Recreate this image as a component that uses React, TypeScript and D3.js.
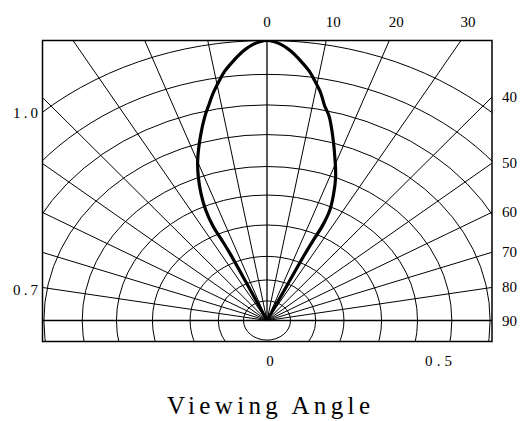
import * as d3 from 'd3'

// radiation pattern: angle (deg from axis) vs relative intensity
const patternAngles = [
  -24.5, -24.5, -24.7, -25.1, -25.5, -24.8, -23.4, -21.7, -19.8, -16.6, -14.2, -12.8, -11.1, -9.2, -8, -6.2, -4.2, -2.4, 0,
  2.4, 4.2, 6.2, 8, 9.2, 11.1, 12.6, 14.2, 16.4, 19.7, 21.8, 23.8, 25.4, 26, 25.7, 25.4, 25.5, 25.5
]
const patternValues = [
  0, 0.146, 0.264, 0.318, 0.371, 0.435, 0.495, 0.553, 0.609, 0.691, 0.753, 0.786, 0.829, 0.873, 0.9, 0.932, 0.965, 0.987, 1.0,
  0.987, 0.965, 0.932, 0.9, 0.873, 0.829, 0.786, 0.753, 0.691, 0.602, 0.55, 0.49, 0.435, 0.375, 0.32, 0.252, 0.134, 0
]

// concentric grid rings (relative radius)
const ringLevels = [0.07, 0.145, 0.229, 0.341, 0.448, 0.55, 0.664, 0.77, 0.879, 1.0]

// radial spokes every 10 degrees
const spokeAngles = d3.range(-90, 91, 10)

const topAngleLabels = ['0', '10', '20', '30']
const topAngleValues = [0, 10, 20, 30]
const rightAngleLabels = ['40', '50', '60', '70', '80', '90']
const rightAngleValues = [40, 50, 60, 70, 80, 90]

const leftValueLabels = ['1.0', '0.7']
const bottomValueLabels = ['0', '0.5']

const W = 525
const H = 421
const box = { left: 42.5, right: 492, top: 40.5, bottom: 341.5 }
const cx = 267
const cy = 320.5
const aspect = 1.2 // horizontal stretch of the polar grid

const r = d3.scaleLinear().domain([0, 1]).range([0, 280])
const rad = (deg: number) => (deg * Math.PI) / 180
const px = (deg: number, v: number) => cx + aspect * r(v) * Math.sin(rad(deg))
const py = (deg: number, v: number) => cy - r(v) * Math.cos(rad(deg))

export default function App() {
  const pts = patternAngles.map((a, i) => [a, patternValues[i]] as [number, number])
  const line = d3
    .line<[number, number]>()
    .x((d) => px(d[0], d[1]))
    .y((d) => py(d[0], d[1]))
    .curve(d3.curveCatmullRom.alpha(0.5))

  const font = '"Liberation Serif", "DejaVu Serif", serif'

  // where a spoke meets the right / top edge of the box
  const edgeY = (deg: number) => cy - (box.right - cx) / aspect / Math.tan(rad(deg))
  const edgeX = (deg: number) => cx + aspect * (cy - box.top) * Math.tan(rad(deg))

  return (
    <svg width={W} height={H} style={{ position: 'absolute', left: 0, top: 0, background: '#fff' }}>
      <defs>
        <clipPath id="plot-clip">
          <rect x={box.left} y={box.top} width={box.right - box.left} height={box.bottom - box.top} />
        </clipPath>
      </defs>
      <g clipPath="url(#plot-clip)" stroke="#000" fill="none">
        {ringLevels.map((v) => (
          <ellipse key={v} cx={cx} cy={cy} rx={aspect * r(v)} ry={r(v)} strokeWidth={1} />
        ))}
        {spokeAngles.map((a) => (
          <line
            key={a}
            x1={cx}
            y1={cy}
            x2={px(a, 2)}
            y2={py(a, 2)}
            strokeWidth={Math.abs(a) === 90 || a === 0 ? 1.3 : 1}
          />
        ))}
        <path d={line(pts) ?? ''} strokeWidth={3.2} strokeLinejoin="round" />
      </g>
      <rect
        x={box.left}
        y={box.top}
        width={box.right - box.left}
        height={box.bottom - box.top}
        fill="none"
        stroke="#000"
        strokeWidth={1.5}
      />
      <g fontFamily={font} fontSize={15} fill="#000">
        {topAngleLabels.map((t, i) => (
          <text key={t} x={edgeX(topAngleValues[i]) + (i === 0 ? 0 : 7)} y={27} textAnchor="middle">
            {t}
          </text>
        ))}
        {rightAngleLabels.map((t, i) => (
          <text key={t} x={502} y={edgeY(rightAngleValues[i]) + 5}>
            {t}
          </text>
        ))}
        <text x={13} y={118} textLength={25} lengthAdjust="spacing">
          {leftValueLabels[0]}
        </text>
        <text x={13} y={295} textLength={25} lengthAdjust="spacing">
          {leftValueLabels[1]}
        </text>
        <text x={270} y={366} textAnchor="middle">
          {bottomValueLabels[0]}
        </text>
        <text x={425} y={366} textLength={27} lengthAdjust="spacing">
          {bottomValueLabels[1]}
        </text>
      </g>
      <text x={167} y={414} fontFamily={font} fontSize={25} textLength={203} lengthAdjust="spacing">
        Viewing Angle
      </text>
    </svg>
  )
}
